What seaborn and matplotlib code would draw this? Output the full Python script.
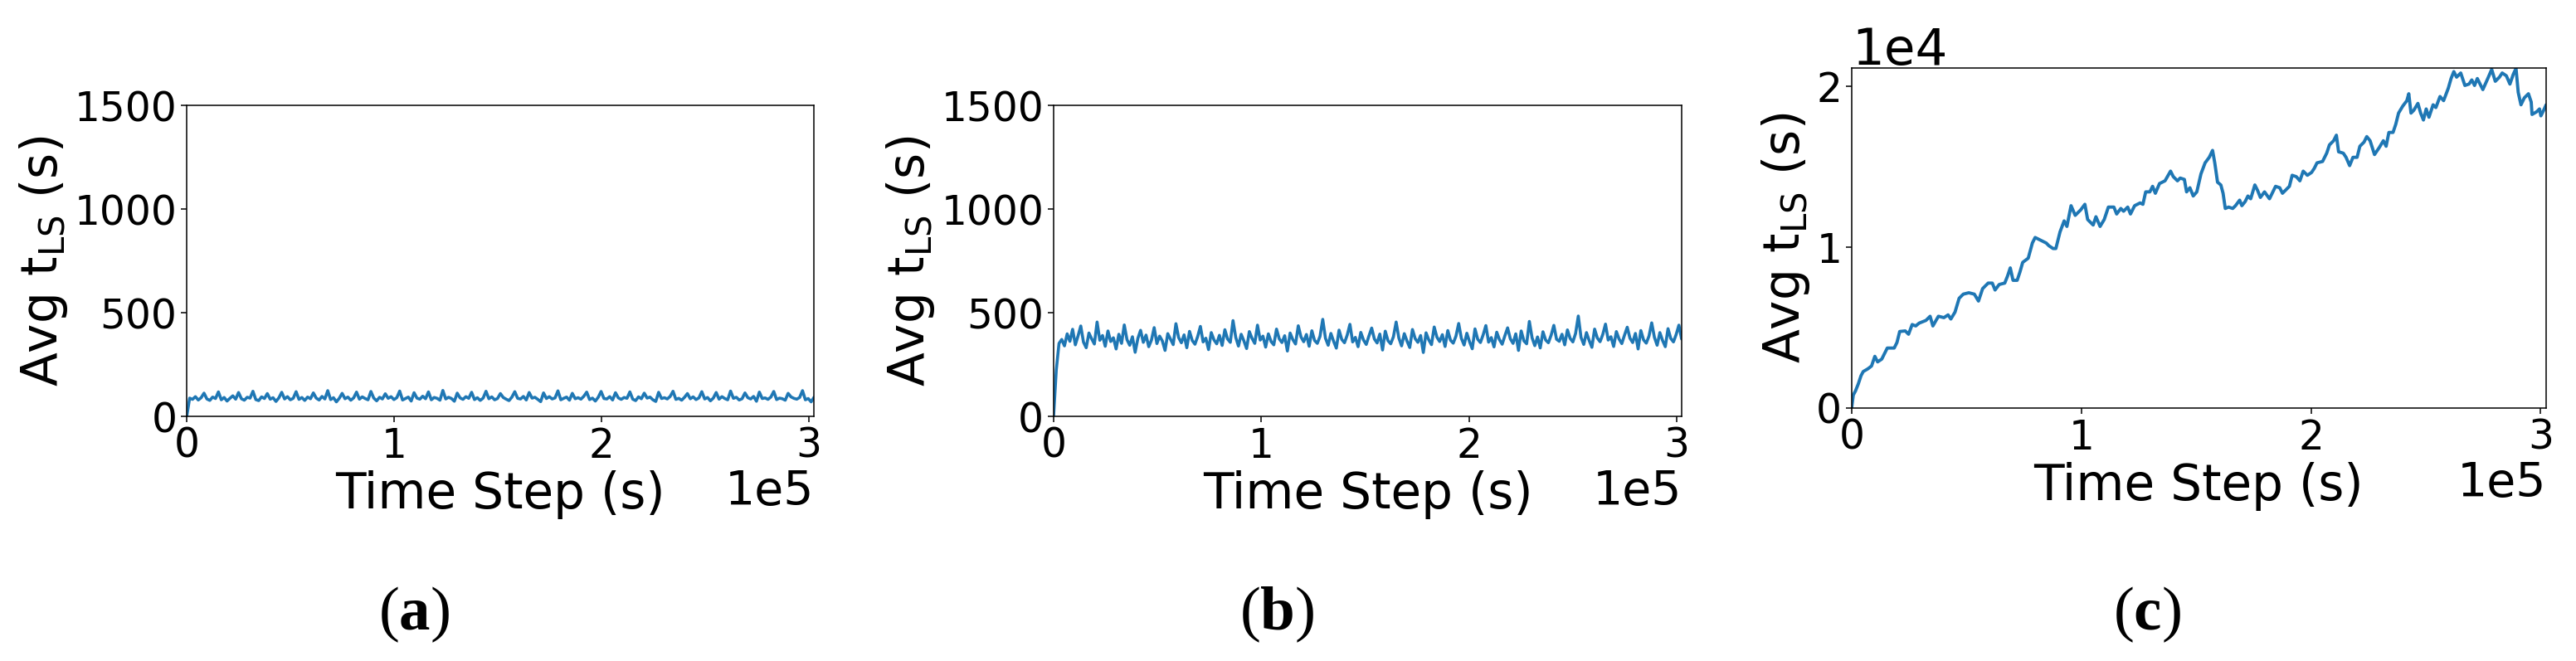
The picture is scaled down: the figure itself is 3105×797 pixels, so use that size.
import numpy as np
import pandas as pd
import matplotlib
matplotlib.use('Agg')
import matplotlib.pyplot as plt
import seaborn as sns

# ---- data ----
# (a) average t_LS, dense noisy trace around ~87 s
avg_a = [0, 88, 82, 95, 79, 90, 112, 84, 77, 93, 86, 118, 80, 91, 74, 87, 99, 83, 115, 85, 78, 92, 88, 121,
         81, 76, 94, 86, 110, 83, 90, 72, 89, 116, 84, 95, 80, 87, 119, 82, 91, 77, 93, 85, 113, 88, 79, 96,
         84, 124, 81, 90, 70, 87, 111, 85, 93, 78, 89, 117, 83, 94, 86, 80, 120, 88, 75, 92, 84, 109, 87, 95,
         81, 90, 122, 79, 86, 93, 74, 114, 88, 83, 97, 85, 118, 80, 91, 87, 78, 125, 84, 92, 86, 73, 112, 89,
         82, 95, 87, 116, 81, 90, 77, 88, 121, 85, 94, 80, 86, 110, 91, 83, 76, 93, 119, 87, 84, 96, 79, 115,
         88, 92, 82, 71, 113, 86, 95, 84, 89, 123, 80, 87, 93, 78, 111, 85, 90, 83, 97, 117, 81, 88, 74, 92,
         120, 86, 84, 95, 79, 114, 89, 82, 91, 87, 118, 83, 76, 94, 85, 112, 88, 93, 80, 72, 116, 86, 90, 84,
         96, 121, 82, 87, 78, 92, 110, 85, 94, 81, 89, 119, 84, 91, 75, 88, 115, 83, 95, 86, 80, 122, 87, 92,
         79, 85, 113, 90, 84, 96, 73, 117, 86, 89, 82, 93, 120, 81, 88, 85, 78, 111, 94, 87, 83, 91, 124, 80,
         86, 70, 92]

# (b) average t_LS, noisy trace around ~370 s
avg_b = [0, 225, 352, 371, 340, 398, 362, 420, 345, 388, 436, 358, 331, 402, 374, 349, 455, 367, 390, 338,
         412, 361, 379, 325, 396, 352, 441, 370, 343, 384, 309, 376, 415, 357, 392, 336, 368, 428, 351, 387,
         364, 318, 399, 372, 346, 447, 380, 355, 393, 331, 410, 366, 348, 385, 434, 359, 377, 322, 404, 369,
         350, 391, 342, 418, 373, 357, 462, 381, 339, 396, 364, 327, 409, 376, 352, 440, 368, 387, 334, 398,
         361, 345, 421, 374, 356, 389, 315, 402, 370, 349, 437, 383, 360, 395, 338, 413, 366, 352, 386, 468,
         377, 343, 400, 362, 329, 416, 371, 355, 392, 444, 359, 381, 336, 405, 368, 347, 388, 426, 373, 354,
         397, 320, 411, 365, 350, 384, 455, 378, 340, 399, 363, 332, 419, 375, 357, 390, 308, 403, 369, 346,
         431, 382, 361, 394, 337, 414, 367, 353, 387, 448, 376, 344, 401, 360, 326, 422, 372, 356, 393, 438,
         358, 380, 335, 406, 370, 348, 389, 427, 374, 352, 398, 318, 412, 364, 350, 458, 379, 341, 383, 330,
         408, 368, 355, 391, 439, 372, 362, 396, 345, 417, 376, 359, 400, 484, 381, 347, 404, 366, 333, 421,
         378, 360, 395, 445, 368, 384, 337, 409, 373, 351, 392, 430, 377, 356, 400, 325, 414, 369, 353, 387,
         451, 381, 343, 404, 366, 336, 423, 376, 359, 395, 440, 373]

# (c) average t_LS, slowly growing trace
step_c = [0, 722, 1685, 2888, 4091, 5054, 7100, 8664, 10108, 11312,
          13117, 15523, 18532, 19735, 20939, 23346, 24790, 26354, 27919, 29362,
          32371, 34176, 35379, 37785, 40193, 41998, 43201, 45006, 46811, 48616,
          51023, 53430, 55235, 57040, 59446, 61251, 62455, 64260, 66667, 67870,
          69073, 70277, 72082, 73285, 74489, 76895, 78700, 79904, 82310, 84717,
          85920, 87726, 88929, 90734, 92539, 93743, 95548, 97353, 99760, 101564,
          102768, 105175, 106378, 108183, 109988, 111793, 114200, 115403, 117208, 118412,
          120217, 121420, 123225, 125632, 126835, 128039, 129844, 131047, 132250, 134055,
          136462, 138868,
          140072, 141877, 143080, 144885, 145848, 147292, 148736, 150301, 152106, 153911,
          155716, 157160, 158123, 159326, 160770, 161733, 162696, 164140, 165945, 167148,
          168953, 169916, 171360, 172563, 173767, 175572, 176775, 177978, 179783, 181949,
          184597, 186402, 187605, 190614, 191817, 193622, 195186, 196630, 198435, 200241,
          201444, 202647, 205054, 206859, 208063, 209868, 211071, 212034, 214079, 215283,
          216847, 218291, 220096, 221300, 223105, 224308, 225752, 227677, 229723, 231528,
          232732, 233935, 235740, 236943, 238147, 239952, 241757, 242599, 243562, 244765,
          246570, 247774, 248977, 250181, 251384, 253189, 254392, 256197, 257762, 259808,
          261011, 262214, 263418, 265223, 267028, 268833, 270036, 271239, 272443, 274850,
          277256, 278700, 280265, 282070, 283273, 285078, 286643, 288087, 289290, 290253,
          291456, 292900, 294705, 295909, 296270, 298315, 299519, 300120, 301324, 302400]
avg_c = [0, 808, 1065, 1495, 2010, 2268, 2440, 2612, 3213, 2869,
         3041, 3729, 3729, 4072, 4759, 4794, 4588, 5189, 5103, 5275,
         5447, 5704, 5103, 5704, 5619, 5790, 5533, 5962, 6821, 7079,
         7165, 7079, 6650, 7423, 7766, 7766, 7337, 7680, 7766, 8196,
         8711, 7938, 7938, 8454, 9055, 9313, 10258, 10601, 10430, 10258,
         10086, 9914, 9914, 10945, 11632, 11289, 12577, 11976, 12320, 12663,
         11718, 11375, 11890, 11289, 11718, 12491, 12491, 12062, 12405, 12234,
         12491, 12062, 12577, 12749, 12663, 13436, 13436, 13780, 13350, 13952,
         14124, 14725,
         14381, 14124, 14295, 14210, 13436, 13694, 13179, 13436, 14553, 15240,
         15584, 16014, 15240, 14038, 13866, 13350, 12405, 12491, 12405, 12577,
         12921, 12577, 12835, 13179, 13007, 13866, 13522, 13093, 13436, 13007,
         13780, 13694, 13350, 13780, 14467, 14381, 14124, 14725, 14467, 14639,
         14897, 15240, 15326, 15842, 16357, 16615, 16959, 15928, 15842, 15584,
         15069, 15584, 15584, 16271, 16529, 16873, 16615, 15756, 16186, 16615,
         16271, 17131, 17131, 17646, 18333, 18763, 19107, 19536, 18333, 18505,
         18935, 18333, 17904, 18591, 18076, 18849, 18677, 19364, 19107, 19880,
         20481, 20911, 20567, 20825, 20052, 20137, 20395, 20052, 20481, 19794,
         20567, 21048, 20309, 20567, 20825, 20653, 20137, 20739, 21110, 19622,
         18849, 19278, 19536, 19021, 18247, 18419, 18591, 18162, 18505, 18849]

t_end = 302400
step_a = np.linspace(0, t_end, len(avg_a))
step_b = np.linspace(0, t_end, len(avg_b))

captions = ['a', 'b', 'c']
line_color = '#1f77b4'

sns.set_style('white', {'axes.edgecolor': 'black', 'xtick.bottom': True, 'ytick.left': True,
                        'xtick.color': 'black', 'ytick.color': 'black',
                        'text.color': 'black', 'axes.labelcolor': 'black'})
plt.rcParams['font.family'] = ['DejaVu Sans']
plt.rcParams['mathtext.fontset'] = 'custom'
plt.rcParams['mathtext.rm'] = 'DejaVu Sans'
plt.rcParams['mathtext.bf'] = 'Liberation Serif:bold'
plt.rcParams['axes.linewidth'] = 1.1

fig = plt.figure(figsize=(31.05, 7.97), dpi=100)
ax_a = fig.add_axes([0.0725, 0.3701, 0.2435, 0.4705])
ax_b = fig.add_axes([0.4090, 0.3701, 0.2438, 0.4705])
ax_c = fig.add_axes([0.7188, 0.3827, 0.2696, 0.5138])

sns.lineplot(x=step_a, y=avg_a, ax=ax_a, color=line_color, linewidth=2.6)
sns.lineplot(x=step_b, y=avg_b, ax=ax_b, color=line_color, linewidth=2.6)
sns.lineplot(x=step_c, y=avg_c, ax=ax_c, color=line_color, linewidth=2.8)

for ax in [ax_a, ax_b, ax_c]:
    ax.set_xlim(0, t_end)
    ax.set_xticks([0, 1e5, 2e5, 3e5])
    ax.ticklabel_format(style='sci', axis='x', scilimits=(0, 0))
    ax.tick_params(labelsize=35, width=1.1, length=5, colors='black')
    ax.set_xlabel('Time Step (s)', fontsize=43, color='black')
    ax.set_ylabel(r'Avg t$_{\mathrm{LS}}$ (s)', fontsize=43, color='black')
    ax.xaxis.get_offset_text().set_fontsize(41)
    ax.xaxis.get_offset_text().set_color('black')

for ax in [ax_a, ax_b]:
    ax.set_ylim(0, 1500)
    ax.set_yticks([0, 500, 1000, 1500])

ax_c.set_ylim(0, max(avg_c))
ax_c.set_yticks([0, 1e4, 2e4])
ax_c.ticklabel_format(style='sci', axis='y', scilimits=(0, 0))
ax_c.yaxis.get_offset_text().set_fontsize(44)
ax_c.yaxis.get_offset_text().set_color('black')

for xpos, letter in zip([0.1607, 0.4957, 0.8335], captions):
    fig.text(xpos, 0.07, r'($\mathbf{' + letter + '}$)', family='Liberation Serif',
             fontsize=54, ha='center', va='center', color='black')

fig.savefig('out.png', dpi=100)
